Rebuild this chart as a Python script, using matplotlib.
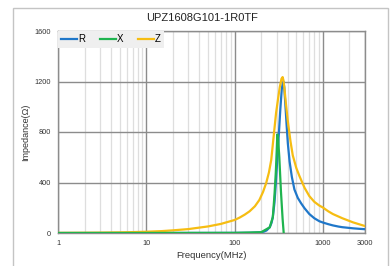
import numpy as np
import matplotlib
matplotlib.use("Agg")
import matplotlib.pyplot as plt
from matplotlib.patches import Rectangle
from matplotlib.ticker import FixedLocator, NullFormatter

plt.rcParams['font.family'] = ['Liberation Sans', 'DejaVu Sans']

# -------------------------------------------
# data
# -------------------------------------------
title = "UPZ1608G101-1R0TF"

r_freq = [1, 50, 100, 150, 200, 215, 230, 250, 262, 271, 283, 293, 303, 317, 330, 342,
          352, 358, 365, 375, 388, 401, 420, 445, 476, 520, 566, 620, 703, 800, 913,
          1000, 1150, 1300, 1500, 1660, 2200, 2600, 3000]
r_vals = [0, 0.5, 1, 2, 6, 11, 20, 45, 80, 125, 240, 390, 560, 780, 985, 1135,
          1192, 1198, 1155, 1030, 860, 710, 565, 445, 345, 278, 236, 196, 150, 117, 93,
          83, 70, 60, 51, 46, 37, 33, 30]

x_freq = [1, 100, 200, 250, 271, 283, 293, 300, 305, 312, 321, 335, 350, 360]
x_vals = [0, 1, 6, 45, 125, 300, 480, 650, 780, 735, 600, 330, 110, 0]

z_freq = [1, 2, 3, 5, 7, 10, 15, 20, 30, 50, 70, 100, 114, 130, 148, 170, 191, 210, 228,
          245, 260, 278, 295, 311, 325, 340, 350, 358, 367, 380, 401, 430, 456, 500, 542,
          620, 703, 800, 913, 1000, 1150, 1300, 1660, 2200, 3000]
z_vals = [1, 2, 3, 5, 7, 10, 15, 21, 31, 52, 72, 103, 122, 145, 172, 212, 262, 325, 396,
          480, 578, 776, 950, 1065, 1155, 1222, 1235, 1208, 1145, 1035, 885, 725, 615, 515,
          452, 358, 292, 247, 217, 202, 172, 150, 117, 84, 55]

x_ticks = [1, 10, 100, 1000, 3000]
x_minor = [2, 3, 4, 5, 6, 7, 8, 9, 20, 30, 40, 50, 60, 70, 80, 90,
           200, 300, 400, 500, 600, 700, 800, 900, 2000]
y_ticks = [0, 400, 800, 1200, 1600]

c_r = '#1f77c9'
c_x = '#1fb44f'
c_z = '#f6bd12'

# -------------------------------------------
# figure
# -------------------------------------------
fig = plt.figure(figsize=(3.9, 2.66), dpi=100)
fig.patches.append(Rectangle((13 / 390, -0.1), 375 / 390, 258 / 266 + 0.1,
                             transform=fig.transFigure, fill=False,
                             edgecolor='#c4c4c4', linewidth=1.0))

ax = fig.add_axes([58 / 390, 1 - 233 / 266, 307 / 390, 202 / 266])
ax.set_xscale('log')
ax.set_xlim(1, 3000)
ax.set_ylim(0, 1600)

ax.plot(r_freq, r_vals, color=c_r, lw=1.6, label='R', zorder=3)
ax.plot(x_freq, x_vals, color=c_x, lw=1.6, label='X', zorder=4)
ax.plot(z_freq, z_vals, color=c_z, lw=1.6, label='Z', zorder=3.5)

ax.xaxis.set_major_locator(FixedLocator(x_ticks))
ax.xaxis.set_minor_locator(FixedLocator(x_minor))
ax.xaxis.set_minor_formatter(NullFormatter())
ax.set_xticklabels([str(t) for t in x_ticks])
ax.set_yticks(y_ticks)

ax.grid(True, which='major', color='#8c8c8c', lw=1.0, zorder=1)
ax.grid(True, which='minor', axis='x', color='#dedede', lw=0.9, zorder=0)
ax.set_axisbelow(True)
for s in ax.spines.values():
    s.set_color('#8c8c8c')
    s.set_linewidth(1.0)

ax.tick_params(which='both', length=0, labelsize=5.3, colors='#333333', pad=5)
ax.set_xlabel('Frequency(MHz)', fontsize=6.8, labelpad=3, color='#333333')
ax.set_ylabel('Impedance(Ω)', fontsize=6.5, labelpad=3, color='#333333')
fig.text(202 / 390, 1 - 18 / 266, title, fontsize=8, color='#222222',
         ha='center', va='center')

leg = ax.legend(loc='upper left', ncol=3, frameon=True, fontsize=7,
                handlelength=1.6, handletextpad=0.15, columnspacing=1.5,
                borderaxespad=0.0, borderpad=0.35, fancybox=False)
leg.get_frame().set_facecolor('#efefef')
leg.get_frame().set_edgecolor('none')
leg.get_frame().set_alpha(1.0)
for line in leg.get_lines():
    line.set_linewidth(1.6)

fig.savefig('out.png', dpi=100)
